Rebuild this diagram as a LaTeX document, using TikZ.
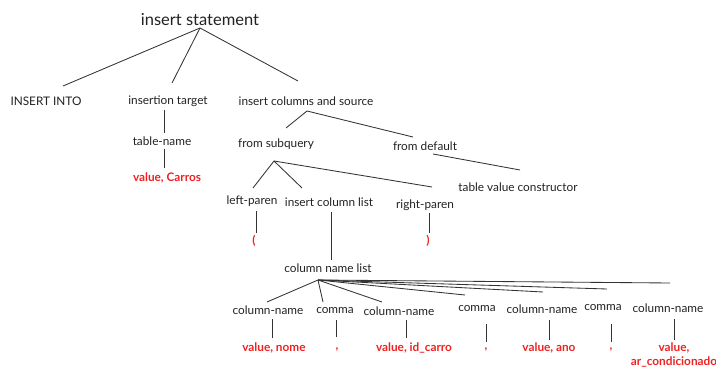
\documentclass[tikz,border=0pt]{standalone}
\usepackage{fontspec}
\setmainfont{Lato}
\definecolor{ink}{HTML}{222222}
\definecolor{edge}{HTML}{333333}
\definecolor{valred}{HTML}{EE2222}
\tikzset{
  lbl/.style={inner sep=0pt, text=ink, font=\fontsize{11.8}{13}\selectfont},
  title/.style={inner sep=0pt, text=ink, font=\fontsize{16.5}{19}\selectfont},
  val/.style={inner sep=0pt, text=valred, align=center, font=\fontsize{11.8}{14.5}\selectfont\bfseries},
  br/.style={draw=edge, line width=0.85pt},
}
\begin{document}
\begin{tikzpicture}[x=1pt,y=-1pt]
\useasboundingbox (0,0) rectangle (716,369);
% nodes
\node[title] (stmt) at (200,20) {insert statement};
\node[lbl] (into) at (46,101) {INSERT INTO};
\node[lbl] (target) at (168,101) {insertion target};
\node[lbl] (ics) at (306,101) {insert columns and source};
\node[lbl] (tname) at (162,141) {table-name};
\node[val] (carros) at (167,178) {value, Carros};
\node[lbl] (fsub) at (276,144) {from subquery};
\node[lbl] (fdef) at (425,146) {from default};
\node[lbl] (tvc) at (518,187) {table value constructor};
\node[lbl] (lp) at (252,201) {left-paren};
\node[lbl] (icl) at (329,202) {insert column list};
\node[lbl] (rp) at (425,205) {right-paren};
\node[val] (lpv) at (254,241) {(};
\node[val] (rpv) at (428,241) {)};
\node[lbl] (cnl) at (328,268) {column name list};
\node[lbl] (c1) at (268,310) {column-name};
\node[lbl] (k1) at (335,311) {comma};
\node[lbl] (c2) at (399,311) {column-name};
\node[lbl] (k2) at (477,309) {comma};
\node[lbl] (c3) at (542,309) {column-name};
\node[lbl] (k3) at (603,308) {comma};
\node[lbl] (c4) at (668,308) {column-name};
\node[val] (v1) at (274,348) {value, nome};
\node[val] (v2) at (337,349) {,};
\node[val] (v3) at (414,348) {value, id\_carro};
\node[val] (v4) at (486,349) {,};
\node[val] (v5) at (549,348) {value, ano};
\node[val] (v6) at (611,349) {,};
\node[val] (v7) at (674,355) {value,\\ar\_condicionado};
% branch points and tips
\coordinate (stmtA) at (200,28);
\coordinate (intoT) at (63,86);
\coordinate (targetT) at (172,83);
\coordinate (icsT) at (298,81);
\coordinate (icsA) at (307,111);
\coordinate (fsubT) at (286,128);
\coordinate (fdefT) at (413,137);
\coordinate (fdefA) at (433,154);
\coordinate (tvcT) at (520,170);
\coordinate (fsubA) at (274,161);
\coordinate (lpT) at (253,188);
\coordinate (iclT) at (302,188);
\coordinate (rpT) at (432,187);
\coordinate (cnlA) at (318,280);
\coordinate (c1T) at (267,302);
\coordinate (k1T) at (323,302);
\coordinate (c2T) at (382,302);
\coordinate (k2T) at (465,295);
\coordinate (c3T) at (543,292);
\coordinate (k3T) at (607,289);
\coordinate (c4T) at (670,283);
% top levels
\draw[br] (stmtA) -- (intoT);
\draw[br] (stmtA) -- (targetT);
\draw[br] (stmtA) -- (icsT);
\draw[br] (164,110) -- (164,133);
\draw[br] (164,149) -- (164,168);
\draw[br] (icsA) -- (fsubT);
\draw[br] (icsA) -- (fdefT);
\draw[br] (fdefA) -- (tvcT);
\draw[br] (fsubA) -- (lpT);
\draw[br] (fsubA) -- (iclT);
\draw[br] (fsubA) -- (rpT);
\draw[br] (256,211) -- (256,233);
\draw[br] (429,213) -- (429,233);
\draw[br] (331,212) -- (331,260);
% column name list
\foreach \t in {c1T,k1T,c2T,k2T,c3T,k3T,c4T}
  \draw[br] (cnlA) -- (\t);
\draw[br] (272,319) -- (272,338);
\draw[br] (336,320) -- (336,337);
\draw[br] (406,320) -- (406,338);
\draw[br] (486,324) -- (486,342);
\draw[br] (549,320) -- (549,340);
\draw[br] (611,324) -- (611,342);
\draw[br] (674,319) -- (674,340);
\end{tikzpicture}
\end{document}
